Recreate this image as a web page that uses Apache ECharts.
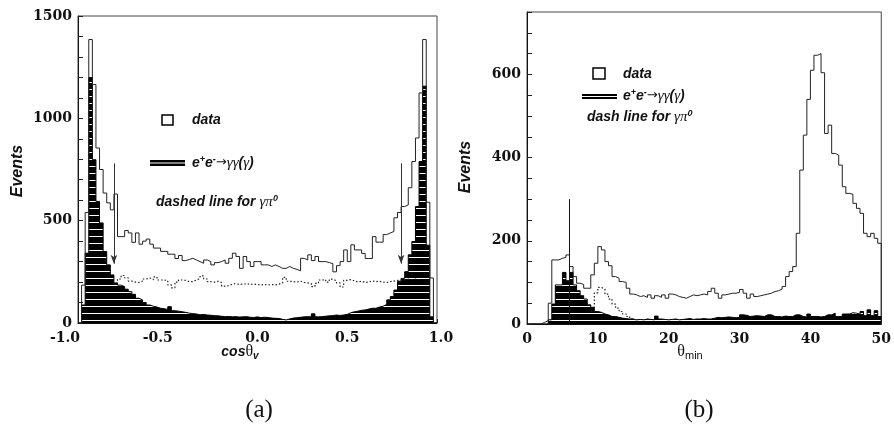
<!DOCTYPE html>
<html>
<head>
<meta charset="utf-8">
<script src="https://cdn.jsdelivr.net/npm/echarts@6.0.0/dist/echarts.min.js"></script>
<style>
  html, body { margin: 0; padding: 0; background: #fff; }
  #chart { width: 894px; height: 439px; }
</style>
</head>
<body>
<div id="chart"></div>
<script>
// (a) cos(theta_v) histograms, 100 bins of 0.02 from -1 to 1
var cosBinLow = -1.0;
var cosBinWidth = 0.02;
var cosData = [
  0, 185, 540, 1385, 1165, 855, 750, 635, 587, 553,
  630, 422, 422, 452, 440, 394, 440, 385, 400, 410,
  385, 366, 366, 350, 350, 336, 336, 315, 330, 305,
  310, 316, 308, 300, 292, 308, 300, 284, 295, 300,
  308, 292, 316, 341, 325, 267, 325, 300, 276, 300,
  300, 284, 284, 276, 284, 276, 267, 267, 276, 267,
  262, 255, 316, 308, 333, 305, 325, 300, 300, 295,
  290, 250, 280, 300, 357, 300, 382, 357, 357, 340,
  315, 315, 422, 395, 395, 432, 440, 447, 514, 540,
  569, 577, 661, 789, 904, 1124, 1385, 590, 220, 0
];
var cosQED = [
  0, 88, 341, 1199, 798, 594, 489, 349, 284, 235,
  196, 185, 178, 165, 153, 140, 121, 113, 100, 88,
  82, 78, 72, 70, 66, 80, 60, 58, 55, 52,
  48, 46, 44, 40, 42, 39, 38, 36, 35, 33,
  31, 32, 30, 31, 29, 30, 31, 28, 27, 30,
  26, 28, 27, 24, 23, 22, 18, 15, 20, 24,
  26, 28, 30, 31, 30, 45, 30, 31, 33, 35,
  36, 39, 37, 39, 42, 50, 55, 58, 62, 64,
  68, 72, 72, 78, 82, 91, 113, 129, 161, 204,
  218, 251, 333, 398, 569, 789, 1157, 380, 30, 0
];
var cosPi0Start = 10;
var cosPi0 = [
  190, 215, 232, 220, 205, 200, 198, 205, 215, 220,
  212, 225, 210, 210, 208, 186, 172, 200, 210, 208,
  202, 202, 210, 218, 230, 215, 202, 200, 204, 198,
  180, 182, 190, 192, 188, 190, 192, 188, 190, 188,
  186, 188, 186, 188, 186, 190, 196, 223, 204, 202,
  200, 204, 198, 196, 192, 178, 194, 210, 212, 200,
  214, 206, 196, 176, 208, 212, 206, 200, 204, 198,
  200, 206, 202, 204, 200, 198, 202, 205, 208, 210,
  212, 214, 212, 214, 212
];
var cosCuts = [-0.8, 0.8];
var cosCutFrom = 780;
var cosCutTo = 290;

// (b) theta_min histograms, 100 bins of 0.5 from 0 to 50
var thetaBinLow = 0;
var thetaBinWidth = 0.5;
var thetaData = [
  0, 0, 0, 0, 4, 8, 50, 154, 154, 158,
  160, 166, 138, 114, 98, 95, 86, 86, 118, 146,
  186, 178, 150, 140, 114, 110, 102, 100, 86, 72,
  70, 66, 68, 64, 70, 62, 68, 64, 70, 62,
  72, 70, 66, 64, 62, 66, 70, 68, 70, 72,
  70, 78, 86, 74, 62, 70, 72, 74, 74, 76,
  83, 74, 62, 72, 66, 68, 70, 72, 74, 78,
  80, 84, 90, 114, 126, 138, 218, 370, 454, 540,
  610, 646, 650, 604, 458, 478, 410, 406, 382, 330,
  314, 312, 290, 278, 266, 218, 210, 218, 206, 194
];
var thetaQED = [
  0, 0, 0, 0, 0, 0, 10, 48, 94, 94,
  124, 104, 124, 94, 80, 68, 60, 46, 40, 30,
  28, 24, 22, 18, 18, 16, 14, 13, 12, 12,
  10, 11, 10, 12, 11, 10, 19, 12, 11, 10,
  11, 12, 10, 11, 12, 13, 11, 12, 12, 13,
  12, 12, 14, 16, 15, 16, 17, 16, 15, 16,
  22, 21, 18, 19, 20, 19, 18, 22, 22, 18,
  18, 17, 19, 18, 18, 22, 22, 18, 17, 24,
  18, 18, 17, 18, 22, 22, 26, 18, 18, 24,
  24, 27, 26, 24, 30, 20, 34, 20, 32, 18
];
var thetaPi0Start = 18;
var thetaPi0 = [30, 75, 88, 84, 72, 60, 48, 38, 30, 24, 18, 13, 9];
var thetaCut = 6;
var thetaCutHeight = 300;

// step points for a histogram; closed = drop to zero at both ends
function histPoints(lo, w, vals, start, closed) {
  var pts = [];
  if (closed) pts.push([lo + start * w, 0]);
  for (var i = 0; i < vals.length; i++) pts.push([lo + (start + i) * w, vals[i]]);
  pts.push([lo + (start + vals.length) * w, closed ? 0 : vals[vals.length - 1]]);
  return pts;
}

// black fill with thin white horizontal stripes
function stripes() {
  var c = document.createElement('canvas');
  c.width = 8; c.height = 7;
  var g = c.getContext('2d');
  g.fillStyle = '#000'; g.fillRect(0, 0, 8, 7);
  g.fillStyle = '#fff'; g.fillRect(0, 5, 8, 1);
  return c;
}

var SANS = '"Liberation Sans", Arial, sans-serif';
var SERIF = '"DejaVu Serif", serif';
var GREEK = '"Liberation Serif", serif';
var tickFont = { fontFamily: SERIF, fontWeight: 'bold', fontSize: 14, color: '#111' };

var chart = echarts.init(document.getElementById('chart'));
var fill = { image: stripes(), repeat: 'repeat' };

function yAxis(gridIndex, max, step, every) {
  return {
    type: 'value', gridIndex: gridIndex, min: 0, max: max, interval: step,
    axisLine: { show: true, onZero: false, lineStyle: { color: '#111', width: 1 } },
    axisTick: { show: true, inside: true, length: 5, lineStyle: { color: '#222' } },
    splitLine: { show: false },
    axisLabel: Object.assign({ margin: 6, formatter: function (v) { return v % every === 0 ? String(v) : ''; } }, tickFont)
  };
}

var option = {
  animation: false,
  backgroundColor: '#fff',
  grid: [
    { left: 78, top: 16, width: 359, height: 307, show: true, borderColor: '#444', borderWidth: 1 },
    { left: 527, top: 12, width: 361, height: 312, show: true, borderColor: '#444', borderWidth: 1 }
  ],
  xAxis: [
    {
      type: 'value', gridIndex: 0, min: -1, max: 1, interval: 0.5,
      axisLine: { onZero: false, lineStyle: { color: '#111' } },
      axisTick: { show: true, inside: true, length: 4, lineStyle: { color: '#222' } },
      splitLine: { show: false },
      axisLabel: Object.assign({
        margin: 8,
        formatter: function (v) {
          var s = v.toFixed(1);
          if (v <= -1) return '{m|' + s + '}';
          if (v < 0) return '{h|' + s + '}';
          if (v >= 1) return '{p|' + s + '}';
          return s;
        },
        rich: {
          m: { fontFamily: SERIF, fontWeight: 'bold', fontSize: 14, color: '#111', padding: [0, 26, 0, 0] },
          h: { fontFamily: SERIF, fontWeight: 'bold', fontSize: 14, color: '#111', padding: [0, 20, 0, 0] },
          p: { fontFamily: SERIF, fontWeight: 'bold', fontSize: 14, color: '#111', padding: [0, 0, 0, 8] }
        }
      }, tickFont)
    },
    {
      type: 'value', gridIndex: 1, min: 0, max: 50, interval: 10,
      axisLine: { onZero: false, lineStyle: { color: '#111' } },
      axisTick: { show: true, inside: true, length: 4, lineStyle: { color: '#222' } },
      splitLine: { show: false },
      axisLabel: Object.assign({ margin: 8 }, tickFont)
    }
  ],
  yAxis: [yAxis(0, 1500, 100, 500), yAxis(1, 750, 50, 200)],
  series: [
    {
      type: 'line', xAxisIndex: 0, yAxisIndex: 0, step: 'end', symbol: 'none', z: 2,
      data: histPoints(cosBinLow, cosBinWidth, cosQED, 0, true),
      lineStyle: { color: '#000', width: 1 },
      areaStyle: { color: fill, opacity: 1 }
    },
    {
      type: 'line', xAxisIndex: 0, yAxisIndex: 0, step: 'end', symbol: 'none', z: 3,
      data: histPoints(cosBinLow, cosBinWidth, cosData, 0, true),
      lineStyle: { color: '#222', width: 1 },
      markLine: {
        silent: true, animation: false, symbol: ['none', 'arrow'], symbolSize: [5, 9],
        label: { show: false },
        lineStyle: { color: '#333', width: 1, type: 'solid' },
        data: cosCuts.map(function (c) { return [{ coord: [c, cosCutFrom] }, { coord: [c, cosCutTo] }]; })
      }
    },
    {
      type: 'line', xAxisIndex: 0, yAxisIndex: 0, step: 'end', symbol: 'none', z: 4,
      data: histPoints(cosBinLow, cosBinWidth, cosPi0, cosPi0Start, false),
      lineStyle: { color: '#222', width: 1.2, type: [1.5, 2] }
    },
    {
      type: 'line', xAxisIndex: 1, yAxisIndex: 1, step: 'end', symbol: 'none', z: 2,
      data: histPoints(thetaBinLow, thetaBinWidth, thetaQED, 0, true),
      lineStyle: { color: '#000', width: 1 },
      areaStyle: { color: fill, opacity: 1 }
    },
    {
      type: 'line', xAxisIndex: 1, yAxisIndex: 1, step: 'end', symbol: 'none', z: 3,
      data: histPoints(thetaBinLow, thetaBinWidth, thetaData, 0, true),
      lineStyle: { color: '#222', width: 1 },
      markLine: {
        silent: true, animation: false, symbol: ['none', 'none'],
        label: { show: false },
        lineStyle: { color: '#111', width: 1, type: 'solid' },
        data: [[{ coord: [thetaCut, 0] }, { coord: [thetaCut, thetaCutHeight] }]]
      }
    },
    {
      type: 'line', xAxisIndex: 1, yAxisIndex: 1, step: 'end', symbol: 'none', z: 4,
      data: histPoints(thetaBinLow, thetaBinWidth, thetaPi0, thetaPi0Start, false),
      lineStyle: { color: '#222', width: 1.2, type: [1.5, 2] }
    }
  ],
  graphic: []
};

// legend and titles
var lab = { fontFamily: SANS, fontStyle: 'italic', fontWeight: 'bold', fontSize: 14, fill: '#111' };
var richLegend = {
  b: lab,
  u: { fontFamily: SANS, fontStyle: 'italic', fontWeight: 'bold', fontSize: 9, lineHeight: 9, verticalAlign: 'top', fill: '#111' },
  g: { fontFamily: GREEK, fontStyle: 'italic', fontSize: 15, fill: '#111' },
  a: { fontFamily: '"DejaVu Sans", sans-serif', fontSize: 13, fill: '#111' }
};
function txt(x, y, text, extra) {
  return { type: 'text', x: x, y: y, z: 10, style: Object.assign({ text: text, rich: richLegend, verticalAlign: 'middle' }, lab, extra || {}) };
}
function boxMark(x, y, w, h) {
  return { type: 'rect', z: 10, shape: { x: x, y: y, width: w, height: h }, style: { fill: '#fff', stroke: '#000', lineWidth: 1.5 } };
}
function barMark(x, y, w, h) {
  return [
    { type: 'rect', z: 10, shape: { x: x, y: y, width: w, height: h }, style: { fill: '#000' } },
    { type: 'line', z: 11, shape: { x1: x, y1: y + h / 2, x2: x + w, y2: y + h / 2 }, style: { stroke: '#fff', lineWidth: 1 } }
  ];
}
var eeText = '{b|e}{u|+}{b|e}{u|-}{a|\u2192}{g|\u03b3\u03b3}{b|(}{g|\u03b3}{b|)}';

option.graphic = [].concat(
  [boxMark(162, 115, 11, 10), txt(192, 120, 'data')],
  barMark(150, 160, 35, 6),
  [txt(192, 163, eeText), txt(156, 202, '{b|dashed line for }{g|\u03b3\u03c0}{u|0}')],
  [boxMark(593, 68, 12, 11), txt(623, 74, 'data')],
  barMark(582, 94, 35, 5),
  [txt(623, 96, eeText), txt(587, 117, '{b|dash line for }{g|\u03b3\u03c0}{u|0}')],
  [
    { type: 'text', x: 18, y: 171, rotation: Math.PI / 2, z: 10,
      style: { text: 'Events', fontFamily: SANS, fontStyle: 'italic', fontWeight: 'bold', fontSize: 16, fill: '#111', align: 'center', verticalAlign: 'middle' } },
    { type: 'text', x: 466, y: 167, rotation: Math.PI / 2, z: 10,
      style: { text: 'Events', fontFamily: SANS, fontStyle: 'italic', fontWeight: 'bold', fontSize: 16, fill: '#111', align: 'center', verticalAlign: 'middle' } },
    { type: 'text', x: 240, y: 352, z: 10,
      style: { text: '{c|cos}{t|\u03b8}{s|v}', align: 'center', verticalAlign: 'middle',
        rich: {
          c: { fontFamily: SANS, fontStyle: 'italic', fontWeight: 'bold', fontSize: 14, lineHeight: 18, fill: '#111' },
          t: { fontFamily: GREEK, fontSize: 16, lineHeight: 18, fill: '#111' },
          s: { fontFamily: SANS, fontStyle: 'italic', fontWeight: 'bold', fontSize: 10, lineHeight: 10, verticalAlign: 'bottom', fill: '#111' }
        } } },
    { type: 'text', x: 690, y: 352, z: 10,
      style: { text: '{t|\u03b8}{s|min}', align: 'center', verticalAlign: 'middle',
        rich: {
          t: { fontFamily: GREEK, fontSize: 16, lineHeight: 18, fill: '#111' },
          s: { fontFamily: SANS, fontSize: 11, lineHeight: 11, verticalAlign: 'bottom', fill: '#111' }
        } } },
    { type: 'text', x: 259, y: 410, z: 10,
      style: { text: '(a)', fontFamily: GREEK, fontSize: 25, fill: '#111', align: 'center', verticalAlign: 'middle' } },
    { type: 'text', x: 699, y: 410, z: 10,
      style: { text: '(b)', fontFamily: GREEK, fontSize: 25, fill: '#111', align: 'center', verticalAlign: 'middle' } }
  ]
);

chart.setOption(option);
</script>
</body>
</html>
